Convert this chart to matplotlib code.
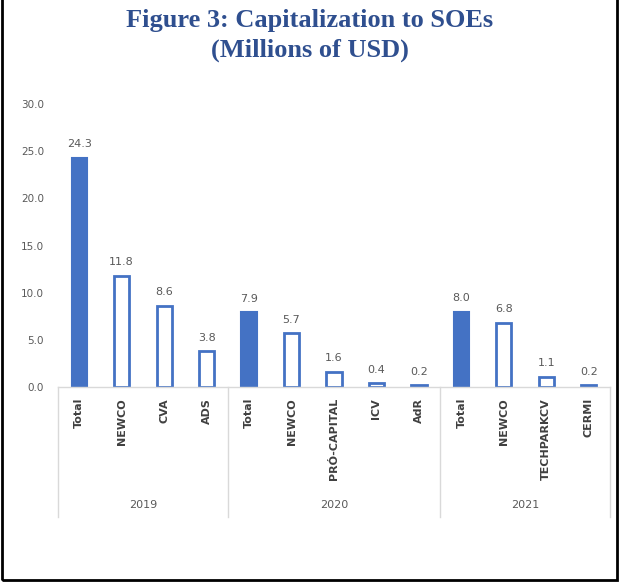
import matplotlib
matplotlib.use("Agg")
import matplotlib.pyplot as plt
from matplotlib.patches import Rectangle

years = ["2019", "2020", "2021"]
categories = [
    ["Total", "NEWCO", "CVA", "ADS"],
    ["Total", "NEWCO", "PRÓ-CAPITAL", "ICV", "AdR"],
    ["Total", "NEWCO", "TECHPARKCV", "CERMI"],
]
values = [
    [24.3, 11.8, 8.6, 3.8],
    [7.9, 5.7, 1.6, 0.4, 0.2],
    [8.0, 6.8, 1.1, 0.2],
]
yticks = [0, 5, 10, 15, 20, 25, 30]

BLUE = "#4472C4"
GRID = "#D9D9D9"
TXT = "#595959"

fig = plt.figure(figsize=(6.21, 5.82), dpi=100)
ax = fig.add_axes([58/621, 195/582, 552/621, 283/582])

labels, vals, totals = [], [], []
for cats, vs in zip(categories, values):
    for c, v in zip(cats, vs):
        labels.append(c)
        vals.append(v)
        totals.append(c == "Total")

x = list(range(len(vals)))
for xi, v, t in zip(x, vals, totals):
    if t:
        ax.bar(xi, v, width=0.36, color=BLUE, edgecolor=BLUE, linewidth=1.5)
    else:
        ax.bar(xi, v, width=0.36, facecolor="white", edgecolor=BLUE, linewidth=2)
    ax.text(xi, v + 0.9, f"{v:.1f}", ha="center", va="bottom", fontsize=8, color=TXT)

ax.set_xlim(-0.5, len(vals) - 0.5)
ax.set_ylim(0, 30)
ax.set_yticks(yticks)
ax.set_yticklabels([f"{t:.1f}" for t in yticks], fontsize=7.5, color=TXT)
ax.tick_params(axis="y", length=0, pad=10)
ax.set_xticks(x)
ax.set_xticklabels(labels, rotation=90, fontsize=8, color="#404040", fontweight="bold")
ax.tick_params(axis="x", length=0, pad=8)
for s in ["top", "right", "left"]:
    ax.spines[s].set_visible(False)
ax.spines["bottom"].set_color(GRID)
ax.spines["bottom"].set_linewidth(1)

tr = ax.get_xaxis_transform()
bottom_y = -130 / 283
start = 0
bounds = [-0.5]
for cats in categories:
    start += len(cats)
    bounds.append(start - 0.5)
for b in bounds:
    ax.plot([b, b], [0, bottom_y], transform=tr, color=GRID, lw=1, clip_on=False)
pos = 0
for yr, cats in zip(years, categories):
    center = pos + (len(cats) - 1) / 2
    ax.text(center, -118 / 283, yr, transform=tr, ha="center", va="center", fontsize=8, color=TXT)
    pos += len(cats)

title_kw = dict(ha="center", va="center", fontsize=19, fontweight="bold",
                family="Liberation Serif", color="#2F4F8F")
fig.text(310 / 621, 1 - 20 / 582, "Figure 3: Capitalization to SOEs", **title_kw)
fig.text(310 / 621, 1 - 50 / 582, "(Millions of USD)", **title_kw)

fig.patches.append(Rectangle((0.004, 0.003), 0.99, 1.2, transform=fig.transFigure,
                             fill=False, edgecolor="black", linewidth=2))

fig.savefig("out.png", dpi=100)
